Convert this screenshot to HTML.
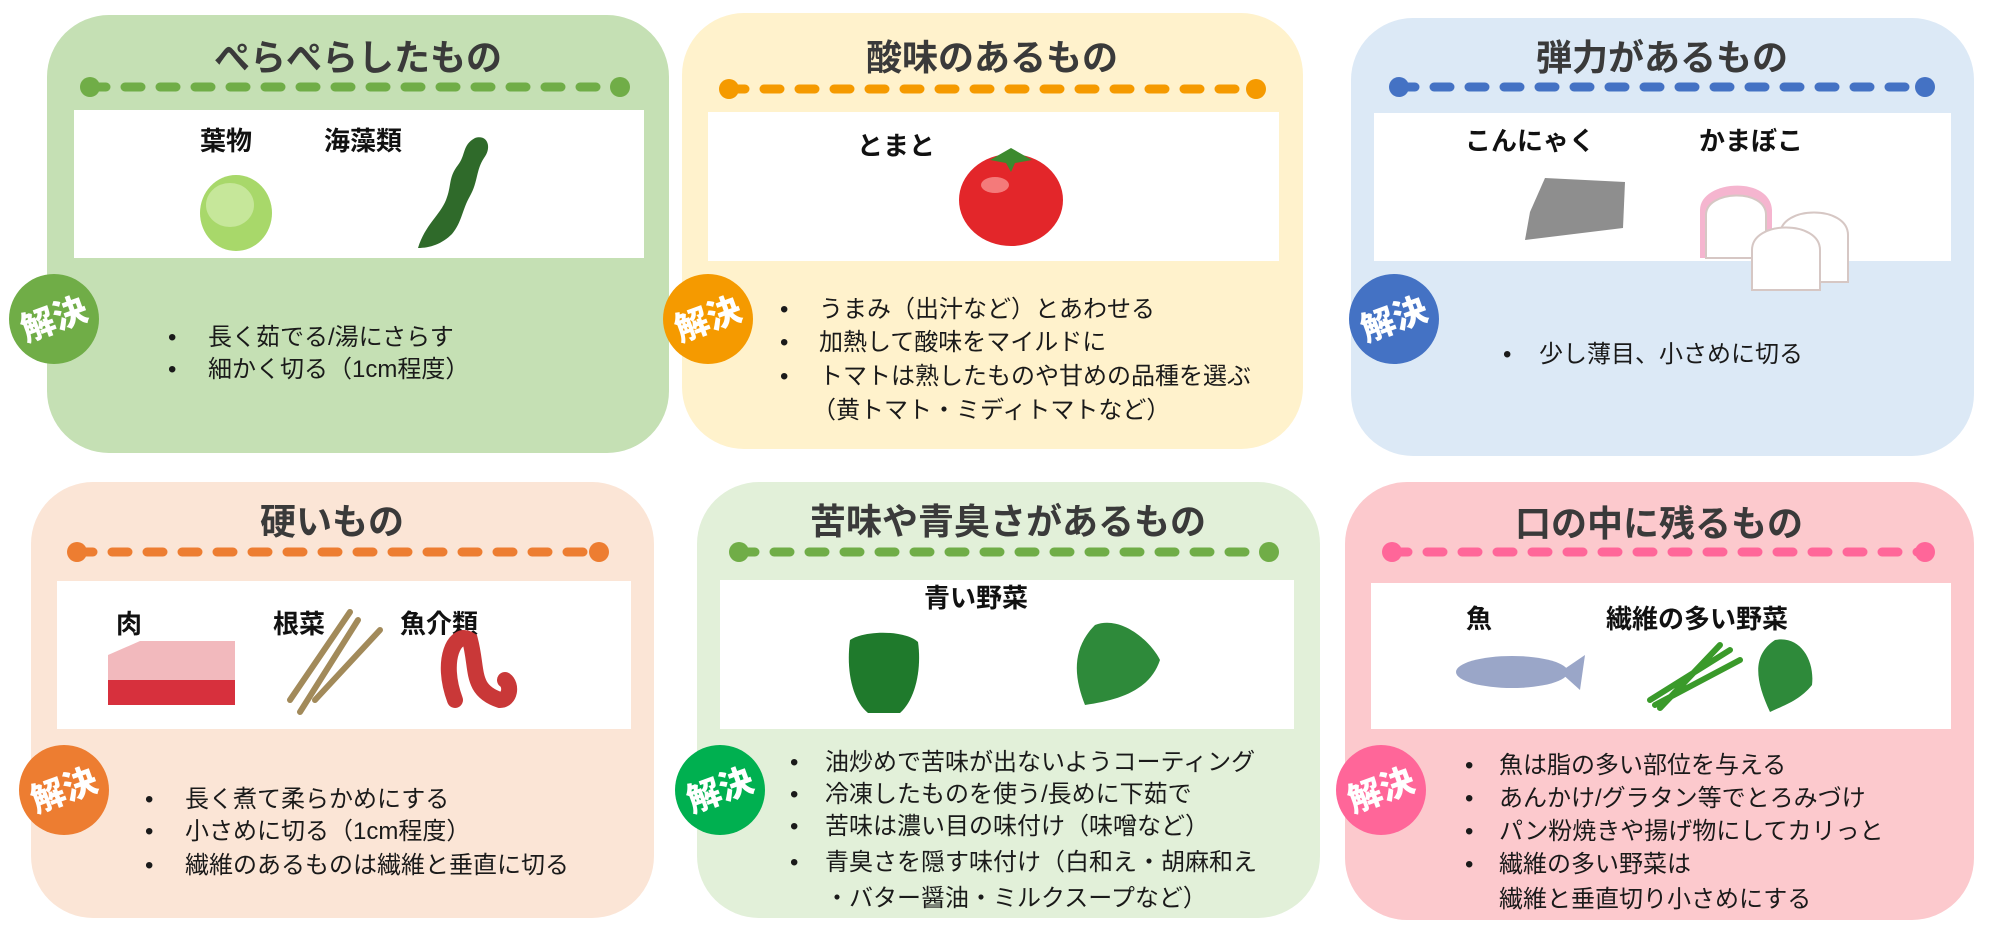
<!DOCTYPE html>
<html><head><meta charset="utf-8"><style>
html,body{margin:0;padding:0;background:#fff;}
svg{display:block;}
text{font-family:"Liberation Sans","Noto Sans CJK JP",sans-serif;}
.t{font-size:36px;font-weight:700;fill:#3a3a3a;text-anchor:middle;}
.l{font-size:26px;font-weight:700;fill:#111;}
.b{font-size:24px;fill:#1a1a1a;}
.s{font-size:34px;font-weight:900;fill:#fff;text-anchor:middle;}
</style></head><body>
<svg width="1999" height="934" viewBox="0 0 1999 934" xmlns="http://www.w3.org/2000/svg">
<!-- Box1 -->
<rect x="47" y="15" width="622" height="438" rx="62" fill="#c5e0b4"/>
<text class="t" x="358" y="70">ぺらぺらしたもの</text>
<line x1="90" y1="87" x2="620" y2="87" stroke="#70ad47" stroke-width="9" stroke-dasharray="16 19" stroke-linecap="round"/>
<circle cx="90" cy="87" r="10" fill="#70ad47"/><circle cx="620" cy="87" r="10" fill="#70ad47"/>
<rect x="74" y="110" width="570" height="148" fill="#fff"/>
<text class="l" x="200" y="150">葉物</text><text class="l" x="324" y="150">海藻類</text>
<ellipse cx="236" cy="213" rx="36" ry="38" fill="#a8d86a"/><ellipse cx="230" cy="205" rx="24" ry="22" fill="#c6e79a"/>
<path d="M418 248 C425 225 440 215 446 200 C452 185 448 178 458 165 C466 155 462 145 475 138 C488 134 492 148 484 158 C476 170 478 182 470 196 C462 210 462 222 452 234 C442 244 430 248 418 248Z" fill="#2f6a2a"/>
<circle cx="54" cy="319" r="45" fill="#70ad47"/>
<text class="s" x="54" y="331" transform="rotate(-20 54 319)">解決</text>
<text class="b" x="168" y="345">•</text><text class="b" x="208" y="345">長く茹でる/湯にさらす</text>
<text class="b" x="168" y="377">•</text><text class="b" x="208" y="377">細かく切る（1cm程度）</text>

<!-- Box2 -->
<rect x="682" y="13" width="621" height="436" rx="62" fill="#fff2cc"/>
<text class="t" x="992" y="70">酸味のあるもの</text>
<line x1="729" y1="89" x2="1256" y2="89" stroke="#f59a00" stroke-width="9" stroke-dasharray="16 19" stroke-linecap="round"/>
<circle cx="729" cy="89" r="10" fill="#f59a00"/><circle cx="1256" cy="89" r="10" fill="#f59a00"/>
<rect x="708" y="112" width="571" height="149" fill="#fff"/>
<text class="l" x="857" y="155">とまと</text>
<ellipse cx="1011" cy="200" rx="52" ry="46" fill="#e3262a"/><ellipse cx="995" cy="185" rx="14" ry="8" fill="#f47a7a"/>
<path d="M990 160 L1011 148 L1032 160 L1015 163 L1011 172 L1006 163Z" fill="#3c8a2e"/>
<circle cx="708" cy="319" r="45" fill="#f59a00"/>
<text class="s" x="708" y="331" transform="rotate(-20 708 319)">解決</text>
<text class="b" x="780" y="317">•</text><text class="b" x="819" y="317">うまみ（出汁など）とあわせる</text>
<text class="b" x="780" y="350">•</text><text class="b" x="819" y="350">加熱して酸味をマイルドに</text>
<text class="b" x="780" y="384">•</text><text class="b" x="819" y="384">トマトは熟したものや甘めの品種を選ぶ</text>
<text class="b" x="812" y="418">（黄トマト・ミディトマトなど）</text>

<!-- Box3 -->
<rect x="1351" y="18" width="623" height="438" rx="62" fill="#dce9f6"/>
<text class="t" x="1662" y="70">弾力があるもの</text>
<line x1="1399" y1="87" x2="1925" y2="87" stroke="#4472c4" stroke-width="9" stroke-dasharray="16 19" stroke-linecap="round"/>
<circle cx="1399" cy="87" r="10" fill="#4472c4"/><circle cx="1925" cy="87" r="10" fill="#4472c4"/>
<rect x="1374" y="113" width="577" height="148" fill="#fff"/>
<text class="l" x="1465" y="150">こんにゃく</text><text class="l" x="1699" y="150">かまぼこ</text>
<path d="M1530 212 L1545 178 L1625 182 L1623 228 L1525 240Z" fill="#8e8e8e"/>
<path d="M1700 210 C1700 180 1770 175 1772 210 L1772 258 L1700 258Z" fill="#f5b5cf"/>
<path d="M1706 215 C1706 190 1766 188 1766 215 L1766 258 L1706 258Z" fill="#fff" stroke="#d6c7c4" stroke-width="2"/>
<path d="M1780 235 C1780 205 1848 205 1848 235 L1848 282 L1780 282Z" fill="#fff" stroke="#d6c7c4" stroke-width="2"/>
<path d="M1752 250 C1752 220 1820 220 1820 250 L1820 290 L1752 290Z" fill="#fff" stroke="#d6c7c4" stroke-width="2"/>
<circle cx="1394" cy="319" r="45" fill="#4472c4"/>
<text class="s" x="1394" y="331" transform="rotate(-20 1394 319)">解決</text>
<text class="b" x="1503" y="362">•</text><text class="b" x="1539" y="362">少し薄目、小さめに切る</text>

<!-- Box4 -->
<rect x="31" y="482" width="623" height="436" rx="62" fill="#fbe5d6"/>
<text class="t" x="332" y="534">硬いもの</text>
<line x1="77" y1="552" x2="599" y2="552" stroke="#ed7d31" stroke-width="9" stroke-dasharray="16 19" stroke-linecap="round"/>
<circle cx="77" cy="552" r="10" fill="#ed7d31"/><circle cx="599" cy="552" r="10" fill="#ed7d31"/>
<rect x="57" y="581" width="574" height="148" fill="#fff"/>
<text class="l" x="116" y="633">肉</text><text class="l" x="273" y="633">根菜</text><text class="l" x="400" y="633">魚介類</text>
<path d="M108 655 L140 641 L235 641 L235 690 L200 705 L108 705Z" fill="#f2b9bd"/>
<rect x="108" y="680" width="127" height="25" fill="#d7303d"/>
<path d="M290 700 L350 612 M300 712 L358 620 M315 700 L380 630" stroke="#a28a5a" stroke-width="6" stroke-linecap="round"/>
<path d="M455 700 C440 660 455 630 470 640 C478 670 470 690 500 700 C510 700 512 685 505 680" stroke="#c93838" stroke-width="16" fill="none" stroke-linecap="round"/>
<circle cx="64" cy="790" r="45" fill="#ed7d31"/>
<text class="s" x="64" y="802" transform="rotate(-20 64 790)">解決</text>
<text class="b" x="145" y="807">•</text><text class="b" x="185" y="807">長く煮て柔らかめにする</text>
<text class="b" x="145" y="839">•</text><text class="b" x="185" y="839">小さめに切る（1cm程度）</text>
<text class="b" x="145" y="873">•</text><text class="b" x="185" y="873">繊維のあるものは繊維と垂直に切る</text>

<!-- Box5 -->
<rect x="697" y="482" width="623" height="436" rx="62" fill="#e2f0d9"/>
<text class="t" x="1008" y="534">苦味や青臭さがあるもの</text>
<line x1="739" y1="552" x2="1269" y2="552" stroke="#70ad47" stroke-width="9" stroke-dasharray="16 19" stroke-linecap="round"/>
<circle cx="739" cy="552" r="10" fill="#70ad47"/><circle cx="1269" cy="552" r="10" fill="#70ad47"/>
<rect x="720" y="580" width="574" height="149" fill="#fff"/>
<text class="l" x="924" y="607">青い野菜</text>
<path d="M850 640 C865 630 905 630 918 642 C922 670 915 700 900 713 L868 713 C852 700 846 670 850 640Z" fill="#1f7a2c"/>
<path d="M1085 705 C1075 680 1070 650 1095 625 C1120 615 1150 640 1160 660 C1150 690 1120 700 1085 705Z" fill="#2e8a3a"/>
<circle cx="720" cy="790" r="45" fill="#00b050"/>
<text class="s" x="720" y="802" transform="rotate(-20 720 790)">解決</text>
<text class="b" x="790" y="770">•</text><text class="b" x="825" y="770">油炒めで苦味が出ないようコーティング</text>
<text class="b" x="790" y="802">•</text><text class="b" x="825" y="802">冷凍したものを使う/長めに下茹で</text>
<text class="b" x="790" y="834">•</text><text class="b" x="825" y="834">苦味は濃い目の味付け（味噌など）</text>
<text class="b" x="790" y="870">•</text><text class="b" x="825" y="870">青臭さを隠す味付け（白和え・胡麻和え</text>
<text class="b" x="825" y="906">・バター醤油・ミルクスープなど）</text>

<!-- Box6 -->
<rect x="1345" y="482" width="629" height="438" rx="62" fill="#fcc9cd"/>
<text class="t" x="1659" y="536">口の中に残るもの</text>
<line x1="1392" y1="552" x2="1925" y2="552" stroke="#ff6699" stroke-width="9" stroke-dasharray="16 19" stroke-linecap="round"/>
<circle cx="1392" cy="552" r="10" fill="#ff6699"/><circle cx="1925" cy="552" r="10" fill="#ff6699"/>
<rect x="1371" y="583" width="580" height="146" fill="#fff"/>
<text class="l" x="1466" y="628">魚</text><text class="l" x="1606" y="628">繊維の多い野菜</text>
<ellipse cx="1512" cy="672" rx="56" ry="16" fill="#9aa6c8"/>
<path d="M1560 672 L1585 655 L1580 690Z" fill="#9aa6c8"/>
<path d="M1650 700 L1730 650 M1655 705 L1740 660 M1660 708 L1720 645" stroke="#3a9a2a" stroke-width="6" stroke-linecap="round"/>
<path d="M1770 712 C1755 680 1752 655 1775 640 C1800 635 1815 660 1812 685 C1800 700 1785 705 1770 712Z" fill="#2e8a3a"/>
<circle cx="1381" cy="790" r="45" fill="#ff6699"/>
<text class="s" x="1381" y="802" transform="rotate(-20 1381 790)">解決</text>
<text class="b" x="1465" y="773">•</text><text class="b" x="1499" y="773">魚は脂の多い部位を与える</text>
<text class="b" x="1465" y="806">•</text><text class="b" x="1499" y="806">あんかけ/グラタン等でとろみづけ</text>
<text class="b" x="1465" y="839">•</text><text class="b" x="1499" y="839">パン粉焼きや揚げ物にしてカリっと</text>
<text class="b" x="1465" y="872">•</text><text class="b" x="1499" y="872">繊維の多い野菜は</text>
<text class="b" x="1499" y="907">繊維と垂直切り小さめにする</text>
</svg>
</body></html>
